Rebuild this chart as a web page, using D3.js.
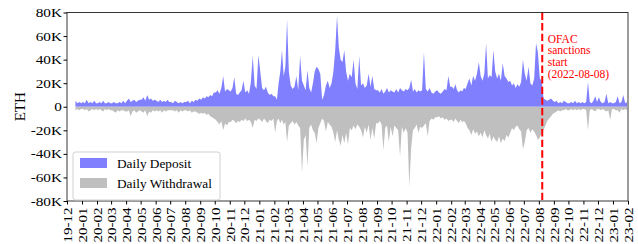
<!DOCTYPE html>
<html>
<head>
<meta charset="utf-8">
<script src="https://cdn.jsdelivr.net/npm/d3@7"></script>
<style>
  body { margin: 0; background: #fff; }
  svg text { font-family: "Liberation Serif", "Times New Roman", Times, serif !important; }
</style>
</head>
<body>
<div id="chart"></div>
<script>
// months on the x axis (one row of 8 samples per month below)
var months = ["2019-12","2020-01","2020-02","2020-03","2020-04","2020-05","2020-06","2020-07",
  "2020-08","2020-09","2020-10","2020-11","2020-12","2021-01","2021-02","2021-03","2021-04",
  "2021-05","2021-06","2021-07","2021-08","2021-09","2021-10","2021-11","2021-12","2022-01",
  "2022-02","2022-03","2022-04","2022-05","2022-06","2022-07","2022-08","2022-09","2022-10",
  "2022-11","2022-12","2023-01"];

// daily deposit, thousands of ETH (8 readings per month)
var deposits = [
  [null,null,null,null,5,3,4,3],
  [4,3,6,3,4,3,5,3],
  [3,4,3,5,3,3,4,3],
  [3,4,3,3,4,3,5,3],
  [5,7,4,5,6,4,5,6],
  [6,8,5,10,6,7,5,6],
  [5,4,6,4,5,4,6,4],
  [4,3,5,4,3,4,3,4],
  [4,5,3,5,4,6,5,7],
  [6,8,7,9,8,10,9,12],
  [12,14,11,16,26,13,15,14],
  [13,16,25,11,10,12,14,22],
  [12,14,11,21,43,18,15,44],
  [30,16,14,17,12,10,11,9],
  [9,6,20,30,48,26,34,74],
  [30,18,15,17,26,14,43,22],
  [18,14,31,16,12,20,30,34],
  [32,28,6,10,18,22,16,20],
  [30,48,77,50,40,38,48,30],
  [22,28,25,40,20,15,43,18],
  [20,16,18,28,17,26,15,14],
  [14,12,15,11,13,16,12,14],
  [13,12,15,12,16,14,13,15],
  [14,16,23,13,15,12,14,13],
  [14,46,15,13,16,12,11,13],
  [14,12,11,13,15,14,26,17],
  [17,15,19,14,12,14,13,16],
  [15,20,24,18,26,22,28,38],
  [26,22,28,54,24,27,25,48],
  [30,24,28,22,37,26,24,21],
  [22,18,20,16,19,17,21,40],
  [28,22,34,20,18,24,54,46],
  [24,22,7,6,5,6,7,5],
  [4,5,3,4,3,5,4,3],
  [3,4,3,5,3,4,3,4],
  [3,4,21,4,3,5,9,4],
  [8,4,3,4,11,3,4,3],
  [3,4,9,3,4,10,3,4]
];

// daily withdrawal, thousands of ETH (drawn below zero)
var withdrawals = [
  [null,null,null,null,3,2,3,2],
  [2,3,2,4,3,2,3,2],
  [3,2,3,4,2,3,2,3],
  [3,4,5,3,4,3,3,4],
  [4,3,8,4,3,5,4,3],
  [4,5,3,8,4,5,3,4],
  [3,4,3,5,3,4,3,3],
  [3,3,4,3,5,3,4,3],
  [3,4,3,5,4,4,5,6],
  [5,6,5,7,6,8,9,10],
  [11,13,15,12,20,14,16,13],
  [13,11,12,14,12,13,11,12],
  [10,12,11,13,18,11,12,10],
  [11,13,10,12,14,11,12,10],
  [22,12,10,14,11,15,13,30],
  [16,14,12,15,13,16,18,56],
  [28,24,51,18,15,20,22,31],
  [18,14,10,12,21,13,15,17],
  [22,30,20,28,33,24,31,22],
  [32,18,20,16,19,15,17,20],
  [26,17,22,15,28,18,27,14],
  [14,12,15,37,18,16,30,17],
  [25,16,18,20,42,17,22,18],
  [22,68,35,20,18,15,22,17],
  [18,16,14,25,12,10,11,9],
  [9,8,10,9,11,10,12,11],
  [11,13,10,12,14,11,13,12],
  [14,18,20,24,19,23,21,25],
  [22,26,20,24,27,23,30,25],
  [28,30,25,31,27,29,24,26],
  [22,18,20,17,16,19,21,36],
  [30,20,18,22,19,21,24,28],
  [26,22,20,16,12,10,8,6],
  [5,4,3,4,3,3,2,3],
  [3,2,3,2,3,2,3,2],
  [2,3,20,3,2,3,4,2],
  [2,3,2,3,4,3,11,2],
  [2,3,3,5,2,3,2,3]
];

var yTicks = [-80000, -60000, -40000, -20000, 0, 20000, 40000, 60000, 80000];
var ofacDate = "2022-08-08";
var ofacText = ["OFAC", "sanctions", "start", "(2022-08-08)"];
var legendNames = ["Daily Deposit", "Daily Withdrawal"];

// size of the picture
var w = 638;
var h = 244;
var mLeft = 67;
var mRight = 628;
var mTop = 12.5;
var mBottom = 201;
var serif = "Liberation Serif, Times New Roman, serif";

var parseMonth = d3.timeParse("%Y-%m");

// turn month rows into dated points
function toPoints(rows, sign) {
	var pts = [];
	rows.forEach(function(row, m) {
		var start = parseMonth(months[m]);
		var end = d3.timeMonth.offset(start, 1);
		row.forEach(function(v, i) {
			var t = new Date(+start + (i + 0.5) / row.length * (end - start));
			pts.push({date: t, value: v == null ? null : sign * v * 1000});
		});
	});
	return pts;
}
var depPoints = toPoints(deposits, 1);
var wdPoints = toPoints(withdrawals, -1);

// tick labels in the picture are a bit wider than plain Times
function widen(sel, k) {
	sel.each(function() {
		var len = this.getComputedTextLength();
		this.setAttribute("textLength", len * k);
		this.setAttribute("lengthAdjust", "spacingAndGlyphs");
	});
}

var x = d3.scaleTime()
	.domain([parseMonth("2019-12"), parseMonth("2023-02")])
	.range([mLeft, mRight]);
var y = d3.scaleLinear()
	.domain([-80000, 80000])
	.range([mBottom, mTop]);

var svg = d3.select("#chart")
	.append("svg")
	.attr("width", w)
	.attr("height", h)
	.attr("font-family", serif);

// areas
var area = d3.area()
	.defined(function(d) { return d.value != null; })
	.x(function(d) { return x(d.date); })
	.y0(y(0))
	.y1(function(d) { return y(d.value); });

svg.append("path")
	.datum(depPoints)
	.attr("d", area)
	.attr("fill", "#8080ff");
svg.append("path")
	.datum(wdPoints)
	.attr("d", area)
	.attr("fill", "#bfbfbf");

// OFAC line
var ofacX = x(d3.timeParse("%Y-%m-%d")(ofacDate));
svg.append("line")
	.attr("x1", ofacX).attr("x2", ofacX)
	.attr("y1", mTop).attr("y2", mBottom)
	.attr("stroke", "#ff0000")
	.attr("stroke-width", 2)
	.attr("stroke-dasharray", "7.4,3.2");

var note = svg.append("text")
	.attr("fill", "#ff0000")
	.attr("font-family", serif)
	.style("font-size", "11.5px");
note.selectAll("tspan")
	.data(ofacText)
	.enter()
	.append("tspan")
	.attr("x", ofacX + 5.5)
	.attr("y", function(d, i) { return 42.5 + i * 11.8; })
	.text(function(d) { return d; });

// frame
svg.append("rect")
	.attr("x", mLeft).attr("y", mTop)
	.attr("width", mRight - mLeft).attr("height", mBottom - mTop)
	.attr("fill", "none")
	.attr("stroke", "#222")
	.attr("stroke-width", 0.9);

// axes
var yAxis = d3.axisLeft(y)
	.tickValues(yTicks)
	.tickSize(3.5)
	.tickPadding(1.5)
	.tickFormat(function(v) { return v == 0 ? "0" : (v / 1000) + "K"; });
var gy = svg.append("g")
	.attr("transform", "translate(" + mLeft + ",0)")
	.call(yAxis)
	.attr("font-family", serif);
gy.select(".domain").remove();
gy.selectAll("text")
	.style("font-size", "12.5px")
	.attr("fill", "#000")
	.call(widen, 1.22);

var xAxis = d3.axisBottom(x)
	.ticks(d3.timeMonth.every(1))
	.tickSize(3.5)
	.tickFormat(d3.timeFormat("%y-%m"));
var gx = svg.append("g")
	.attr("transform", "translate(0," + mBottom + ")")
	.call(xAxis)
	.attr("font-family", serif);
gx.select(".domain").remove();
gx.selectAll("text")
	.attr("transform", "rotate(-90)")
	.attr("text-anchor", "end")
	.attr("x", -6.5)
	.attr("y", 0)
	.attr("dy", "0.35em")
	.style("font-size", "12.5px")
	.attr("fill", "#000")
	.call(widen, 1.2);

// y axis label
svg.append("text")
	.attr("transform", "translate(25," + y(0) + ") rotate(-90)")
	.attr("text-anchor", "middle")
	.style("font-size", "15px")
	.text("ETH");

// legend
var lg = svg.append("g").attr("transform", "translate(73,152)");
lg.append("rect")
	.attr("width", 147).attr("height", 48)
	.attr("rx", 2.5)
	.attr("fill", "#fff")
	.attr("fill-opacity", 0.8)
	.attr("stroke", "#cccccc")
	.attr("stroke-width", 0.9);
lg.selectAll(".patch")
	.data(legendNames)
	.enter()
	.append("rect")
	.attr("x", 7).attr("y", function(d, i) { return 6 + i * 20; })
	.attr("width", 27).attr("height", 10)
	.attr("fill", function(d, i) { return i == 0 ? "#8080ff" : "#bfbfbf"; });
lg.selectAll(".lab")
	.data(legendNames)
	.enter()
	.append("text")
	.attr("x", 44).attr("y", function(d, i) { return 16 + i * 19.5; })
	.style("font-size", "13.3px")
	.text(function(d) { return d; });
</script>
</body>
</html>
